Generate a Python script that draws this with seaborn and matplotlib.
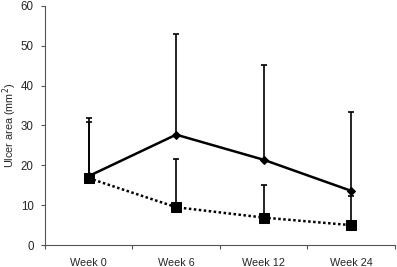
import numpy as np
import pandas as pd
import matplotlib
matplotlib.use("Agg")
import matplotlib.pyplot as plt
import seaborn as sns

# values
weeks = ["Week 0", "Week 6", "Week 12", "Week 24"]
solid_mean = [17.3, 27.7, 21.4, 13.6]
solid_upper = [32.0, 53.0, 45.2, 33.4]
dotted_mean = [16.8, 9.5, 6.9, 5.0]
dotted_upper = [31.0, 21.7, 15.0, 12.3]

sns.set_style("ticks")
plt.rcParams["font.family"] = ["Liberation Sans", "DejaVu Sans"]

fig = plt.figure(figsize=(3.97, 2.67), dpi=100)
ax = fig.add_axes([0.113, 0.082, 0.882, 0.896])

x = np.arange(len(weeks))
df = pd.DataFrame({"x": np.concatenate([x, x]),
                   "y": solid_mean + dotted_mean,
                   "grp": ["solid"] * 4 + ["dotted"] * 4})

# error bars (upper only)
for mean, upper in [(solid_mean, solid_upper), (dotted_mean, dotted_upper)]:
    m = np.array(mean)
    up = np.array(upper) - m
    ax.errorbar(x, m, yerr=[np.zeros_like(m), up], fmt="none", ecolor="black",
                elinewidth=1.2, capsize=2.2, capthick=1.2, zorder=2)

sns.lineplot(data=df[df.grp == "dotted"], x="x", y="y", ax=ax, color="black",
             linestyle=(0, (1, 1)), linewidth=1.8, marker="s", markersize=6.5,
             markeredgecolor="black", zorder=3)
sns.lineplot(data=df[df.grp == "solid"], x="x", y="y", ax=ax, color="black",
             linewidth=1.8, marker="D", markersize=4, markeredgecolor="black",
             zorder=4)

ax.set_xlim(-0.5, 3.5)
ax.set_ylim(0, 60)
ax.set_yticks(range(0, 61, 10))
ax.set_xticks(x)
ax.set_xticklabels(weeks)
ax.set_xticks(np.arange(-0.5, 3.6, 1), minor=True)
ax.tick_params(axis="x", which="major", length=0, pad=9, labelsize=7.8)
ax.tick_params(axis="x", which="minor", length=3, width=0.8, color="#555555")
ax.tick_params(axis="y", length=3, width=0.8, labelsize=8.3, pad=5, color="#555555")
ax.set_xlabel("")
ax.set_ylabel("Ulcer area (mm$^2$)", fontsize=7.8, labelpad=1.5)
for s in ["left", "bottom"]:
    ax.spines[s].set_color("#555555")
    ax.spines[s].set_linewidth(0.8)
sns.despine(ax=ax)

fig.savefig("out.png", dpi=100)
